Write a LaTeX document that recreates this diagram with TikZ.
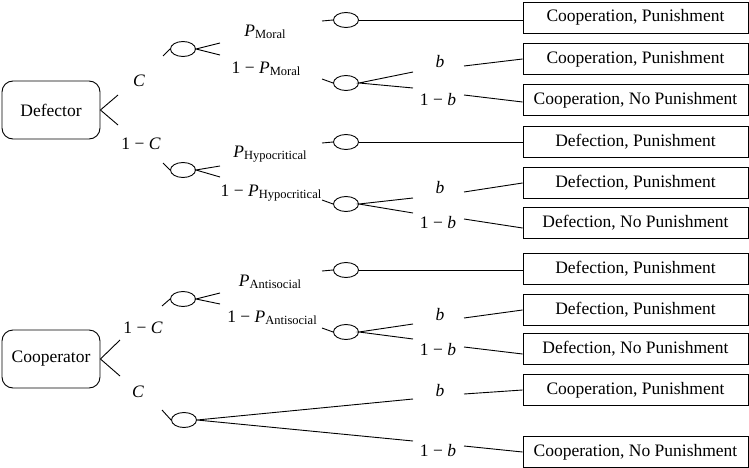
\documentclass[tikz,border=0pt]{standalone}
\usepackage{fontspec}
\setmainfont{Liberation Serif}
\usetikzlibrary{shapes.geometric,calc}
\newcommand{\sbx}[1]{\raisebox{-0.25ex}{\fontsize{12.5}{13}\selectfont #1}}
\newcommand{\mP}{\textit{P}}
\begin{document}
\begin{tikzpicture}[x=1pt,y=-1pt, line width=0.9pt,
  every node/.style={font=\fontsize{17.5}{20}\selectfont},
  outcome/.style={draw, minimum width=225pt, minimum height=31pt, inner sep=0pt},
  player/.style={draw, rounded corners=11pt, minimum width=98pt, minimum height=58pt, inner sep=0pt},
  chance/.style={draw, ellipse, minimum width=25pt, minimum height=15pt, inner sep=0pt},
  lbl/.style={inner sep=0pt}]
\fill[white] (0,0) rectangle (749,468);
\useasboundingbox (0,0) rectangle (749,468);

% players
\node[player] (def) at (51,110) {Defector};
\node[player] (coop) at (51,359) {Cooperator};

% outcome boxes
\node[outcome] (o1) at (635.5,17.5) {Cooperation, Punishment};
\node[outcome] (o2) at (635.5,59) {Cooperation, Punishment};
\node[outcome] (o3) at (635.5,100) {Cooperation, No Punishment};
\node[outcome] (o4) at (635.5,142) {Defection, Punishment};
\node[outcome] (o5) at (635.5,183) {Defection, Punishment};
\node[outcome] (o6) at (635.5,223) {Defection, No Punishment};
\node[outcome] (o7) at (635.5,269) {Defection, Punishment};
\node[outcome] (o8) at (635.5,310) {Defection, Punishment};
\node[outcome] (o9) at (635.5,349) {Defection, No Punishment};
\node[outcome] (o10) at (635.5,390) {Cooperation, Punishment};
\node[outcome] (o11) at (635.5,452) {Cooperation, No Punishment};

% first-level chance nodes
\node[chance] (e1) at (183,49) {};
\node[chance] (e2) at (183,170) {};
\node[chance] (e3) at (183,299) {};
\node[chance] (e4) at (184,420) {};

% second-level chance nodes
\node[chance] (f1) at (346,20) {};
\node[chance] (f2) at (346,83) {};
\node[chance] (f3) at (346,142) {};
\node[chance] (f4) at (346,204) {};
\node[chance] (f5) at (346,270) {};
\node[chance] (f6) at (346,332) {};

% player forks
\coordinate (d1) at (118,95);
\coordinate (d2) at (118,125);
\draw (d1) -- (def.east) -- (d2);
\coordinate (c1) at (120,340);
\coordinate (c2) at (120,376);
\draw (c1) -- (coop.east) -- (c2);

% labels first level
\node[lbl] (lC) at (139,81) {\textit{C}};
\node[lbl] (l1C) at (141,144) {1 − \textit{C}};
\node[lbl] (k1C) at (143,328) {1 − \textit{C}};
\node[lbl] (kC) at (138,392) {\textit{C}};

% stubs into first-level chance nodes
\coordinate (s1) at (163,56);
\coordinate (s2) at (163,163);
\coordinate (s3) at (162,306);
\coordinate (s4) at (162,410);
\draw (s1) -- (e1.west);
\draw (s2) -- (e2.west);
\draw (s3) -- (e3.west);
\draw (s4) -- (e4.west);

% first-level forks
\coordinate (g1a) at (220,43);
\coordinate (g1b) at (220,55);
\draw (g1a) -- (e1.east) -- (g1b);
\coordinate (g2a) at (220,166);
\coordinate (g2b) at (220,177);
\draw (g2a) -- (e2.east) -- (g2b);
\coordinate (g3a) at (220,293);
\coordinate (g3b) at (220,304);
\draw (g3a) -- (e3.east) -- (g3b);
\coordinate (g4a) at (413,399);
\coordinate (g4b) at (413,441);
\draw (g4a) -- (e4.east) -- (g4b);

% probability labels
\node[lbl] (pm) at (265,32) {\mP\sbx{Moral}};
\node[lbl] (qm) at (266,69) {1 − \mP\sbx{Moral}};
\node[lbl] (ph) at (270,154) {\mP\sbx{Hypocritical}};
\node[lbl] (qh) at (271,193) {1 − \mP\sbx{Hypocritical}};
\node[lbl] (pa) at (270,282) {\mP\sbx{Antisocial}};
\node[lbl] (qa) at (272,318) {1 − \mP\sbx{Antisocial}};

% stubs into second-level chance nodes
\coordinate (t1) at (322,21);
\coordinate (t2) at (322,79);
\coordinate (t3) at (322,143);
\coordinate (t4) at (322,200);
\coordinate (t5) at (322,271);
\coordinate (t6) at (322,328);
\draw (t1) -- (f1.west);
\draw (t2) -- (f2.west);
\draw (t3) -- (f3.west);
\draw (t4) -- (f4.west);
\draw (t5) -- (f5.west);
\draw (t6) -- (f6.west);

% direct lines to outcomes
\draw (f1.east) -- (f1.east -| o1.west);
\draw (f3.east) -- (f3.east -| o4.west);
\draw (f5.east) -- (f5.east -| o7.west);

% second-level forks
\coordinate (h2a) at (413,72);
\coordinate (h2b) at (413,88);
\draw (h2a) -- (f2.east) -- (h2b);
\coordinate (h4a) at (413,198);
\coordinate (h4b) at (413,213);
\draw (h4a) -- (f4.east) -- (h4b);
\coordinate (h6a) at (413,324);
\coordinate (h6b) at (413,339);
\draw (h6a) -- (f6.east) -- (h6b);

% b labels
\node[lbl] (b1) at (440,62) {\textit{b}};
\node[lbl] (nb1) at (438,100) {1 − \textit{b}};
\node[lbl] (b2) at (440,188) {\textit{b}};
\node[lbl] (nb2) at (438,223) {1 − \textit{b}};
\node[lbl] (b3) at (440,315) {\textit{b}};
\node[lbl] (nb3) at (438,350) {1 − \textit{b}};
\node[lbl] (b4) at (440,391) {\textit{b}};
\node[lbl] (nb4) at (438,451) {1 − \textit{b}};

% lines from b labels to outcomes
\coordinate (u1) at (464,66);
\coordinate (v1) at (464,95);
\coordinate (u2) at (464,192);
\coordinate (v2) at (464,219);
\coordinate (u3) at (464,318);
\coordinate (v3) at (464,347);
\coordinate (u4) at (464,394);
\coordinate (v4) at (464,446);
\draw (u1) -- (o2.west);
\draw (v1) -- ($(o3.west)+(0,2)$);
\draw (u2) -- (o5.west);
\draw (v2) -- ($(o6.west)+(0,5)$);
\draw (u3) -- (o8.west);
\draw (v3) -- ($(o9.west)+(0,5)$);
\draw (u4) -- (o10.west);
\draw (v4) -- (o11.west);
\end{tikzpicture}
\end{document}
